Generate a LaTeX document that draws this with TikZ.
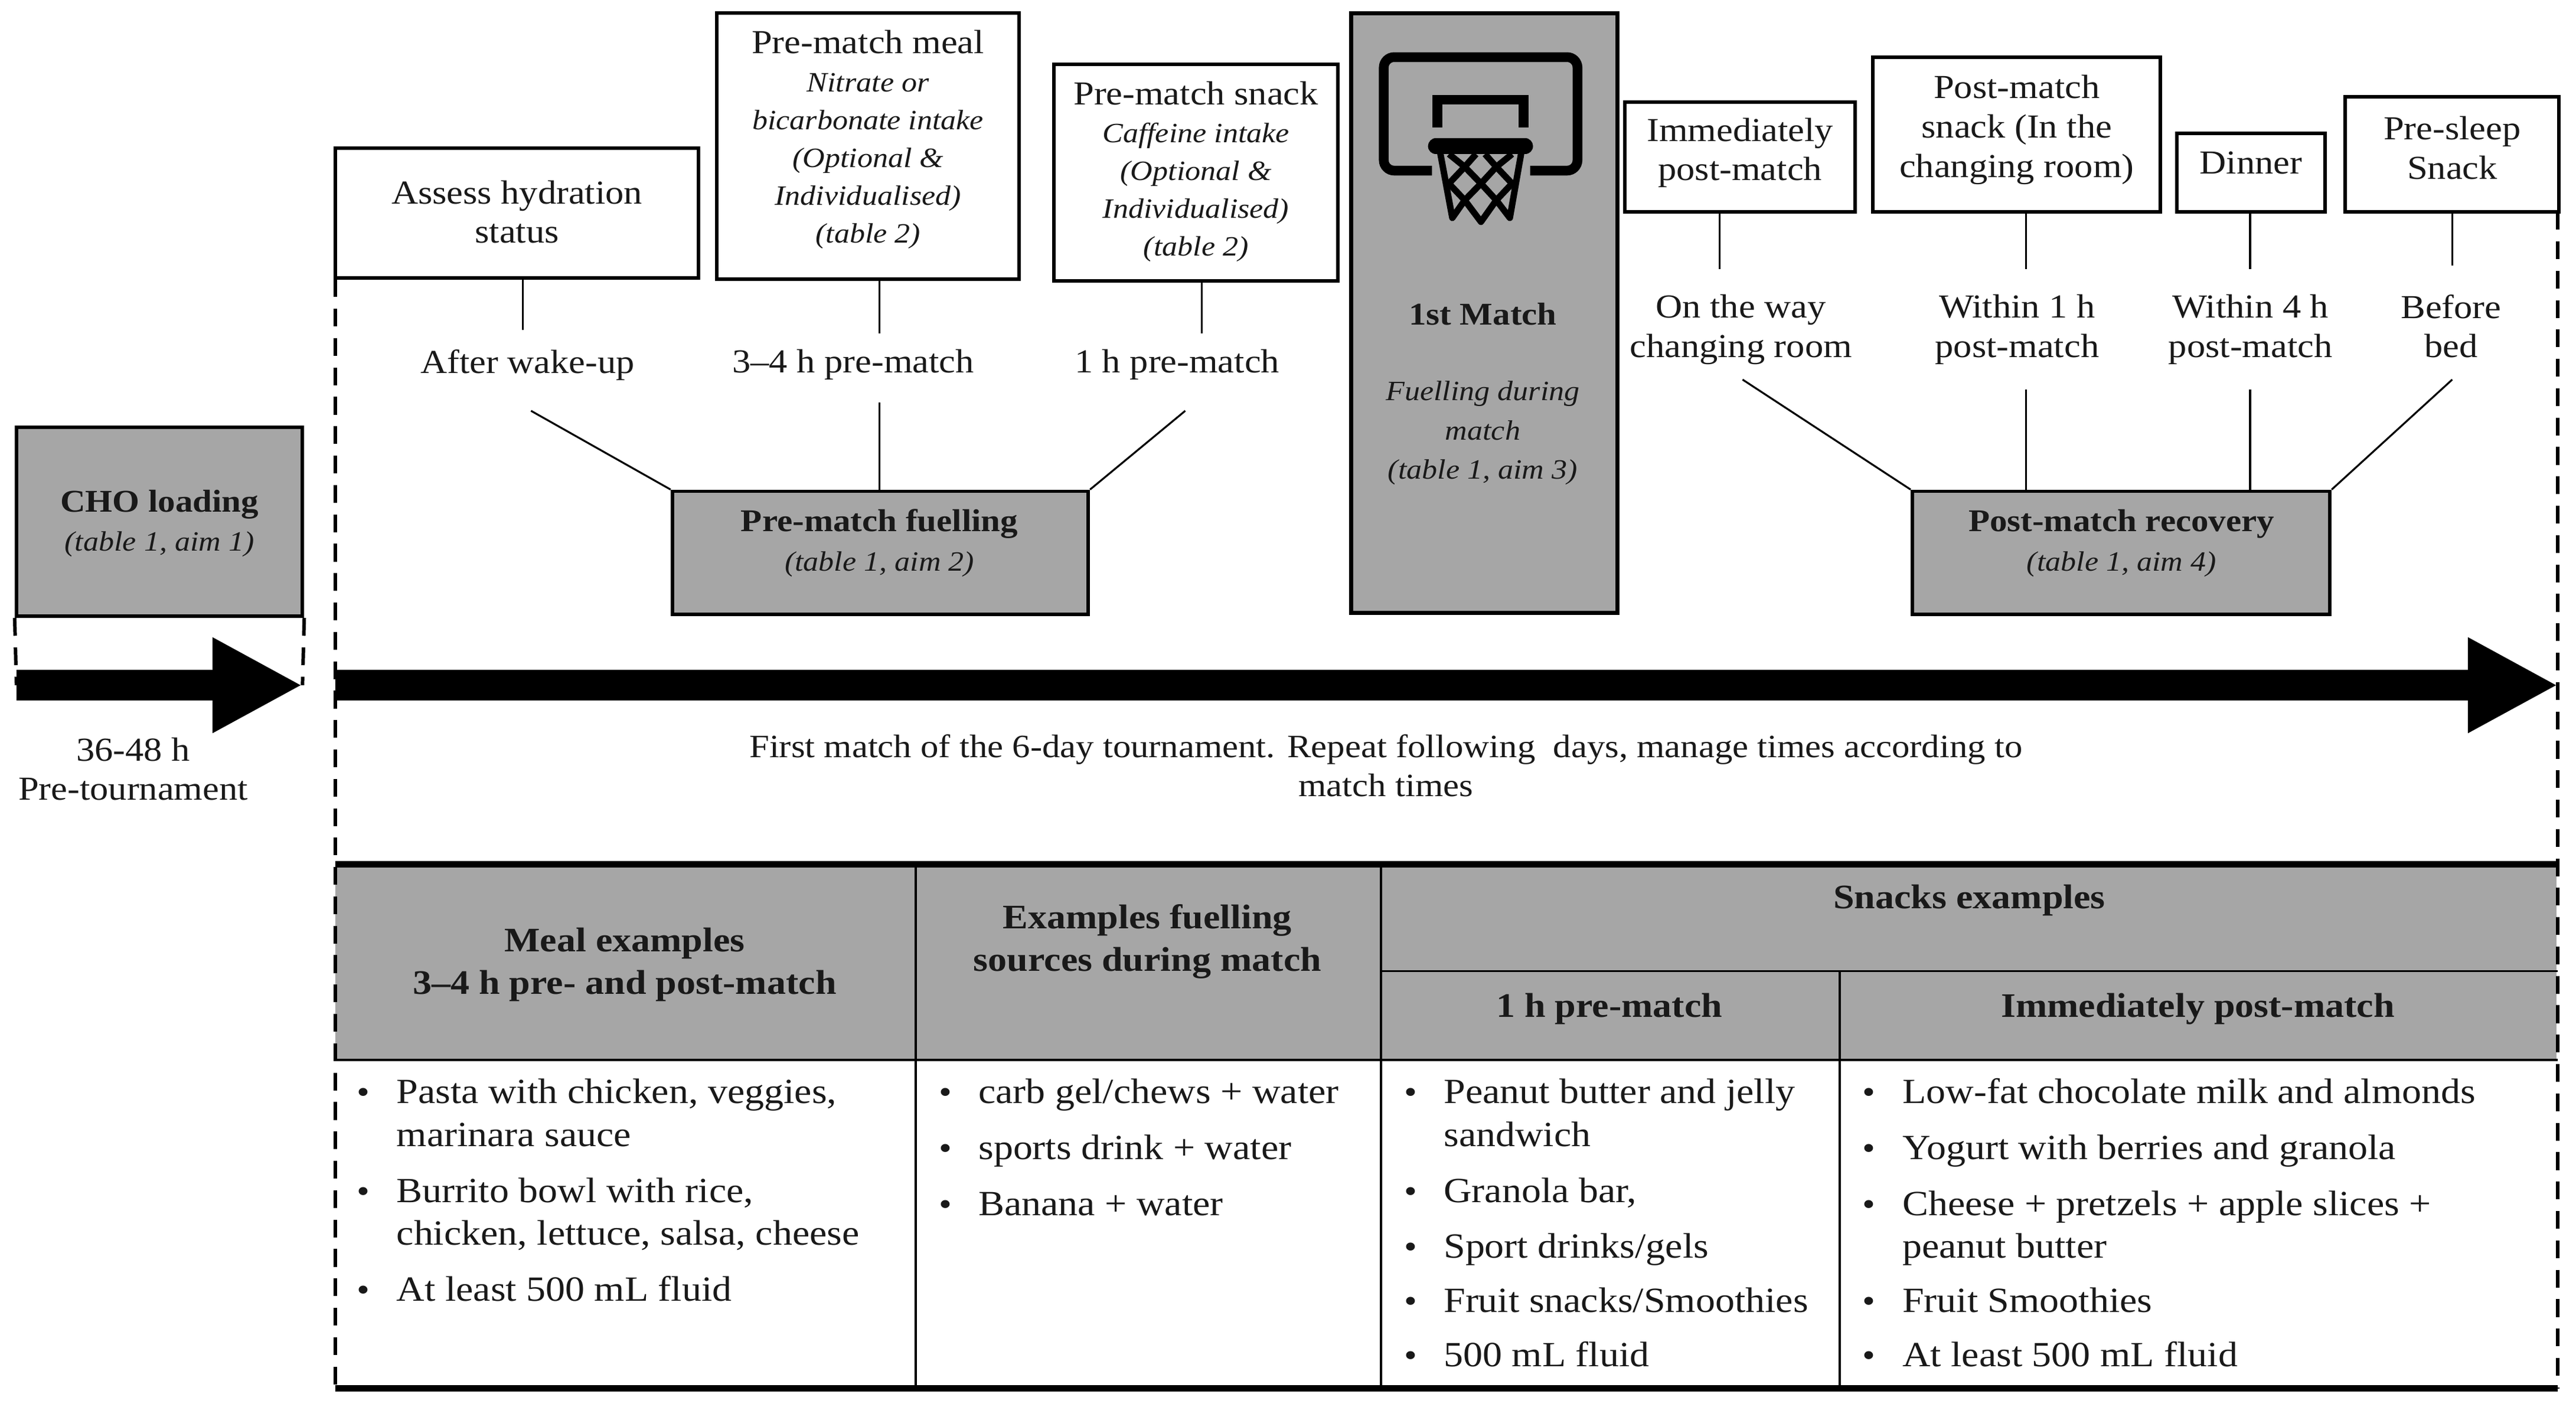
\documentclass[tikz,border=0pt]{standalone}
\usepackage{fontspec}
\setmainfont[FakeStretch=1.1]{Liberation Serif}
\usetikzlibrary{arrows.meta}
\newcommand{\unt}{0.2791mm}
\newcommand{\subtxt}[1]{{\fontsize{13.5}{18.3}\selectfont\itshape #1}}
\newcommand{\boxbold}[1]{{\fontsize{15.3}{18.8}\selectfont\bfseries #1}}
\definecolor{boxgrey}{HTML}{A6A6A6}
\tikzset{
  basetext/.style={font=\fontsize{16.2}{19}\selectfont,align=center,inner sep=0pt,text=black!90},
  tightlead/.style={basetext,font=\fontsize{16.2}{18.3}\selectfont},
  headtext/.style={basetext,font=\fontsize{16.6}{20.6}\selectfont\bfseries},
  whitebox/.style={draw,line width=1.7pt,fill=white,inner sep=0pt},
  greybox/.style={draw,line width=1.7pt,fill=boxgrey,inner sep=0pt},
  link/.style={line width=0.9pt},
  dashline/.style={line width=1.7pt,dash pattern=on 8.6pt off 5.6pt},
  timearrow/.style={line width=14.6pt,-{Triangle[length=43.5pt,width=43pt]}},
  tablerule/.style={line width=1.1pt},
  thickrule/.style={line width=3.2pt},
  itemtext/.style={basetext,font=\fontsize{17.1}{19}\selectfont,anchor=west,text height=11pt,text depth=3.5pt,yshift=-1.5pt},
  itemdot/.style={basetext,text height=11pt,text depth=3.5pt,yshift=-1.5pt}
}
\begin{document}
\begin{tikzpicture}[x=\unt,y=-\unt]
  \useasboundingbox (0,0) rectangle (1567,854.4);
  % dashed frame
  \coordinate (FL) at (204,170);
  \coordinate (FR) at (1556,129);
  \coordinate (BL) at (204,845);
  \coordinate (BR) at (1556,845);

  % table
  \fill[boxgrey] (204,528) rectangle (1555,645);
  \coordinate (T0) at (204,526);
  \coordinate (T1) at (557,526);
  \coordinate (T2) at (840,526);
  \coordinate (T3) at (1119,526);
  \coordinate (T4) at (1556,526);
  \draw[thickrule] (T0) -- (T4);
  \draw[thickrule] (BL) -- (BR);
  \draw[tablerule] (T0 |- 0,645) -- (T4 |- 0,645);
  \draw[tablerule] (T2 |- 0,591) -- (T4 |- 0,591);
  \draw[tablerule] (T1) -- (T1 |- BL);
  \draw[tablerule] (T2) -- (T2 |- BL);
  \draw[tablerule] (T3 |- 0,591) -- (T3 |- BL);
  \draw[dashline] (FL) -- (BL);
  \draw[dashline] (FR) -- (BR);

  % upper boxes
  \node[whitebox,minimum width=221*\unt,minimum height=79*\unt] (hydration) at (314.5,129.5) {};
  \node[whitebox,minimum width=184*\unt,minimum height=162*\unt] (meal) at (528,89) {};
  \node[whitebox,minimum width=173*\unt,minimum height=132*\unt] (snack) at (727.5,105) {};
  \node[whitebox,minimum width=140*\unt,minimum height=67*\unt] (immediate) at (1058.5,95.5) {};
  \node[whitebox,minimum width=175*\unt,minimum height=94*\unt] (changing) at (1226.8,82) {};
  \node[whitebox,minimum width=90*\unt,minimum height=48*\unt] (dinner) at (1369.3,105) {};
  \node[whitebox,minimum width=130*\unt,minimum height=70*\unt] (sleep) at (1491.7,94) {};
  \node[basetext] (hydrationtxt) at (314.5,129) {Assess hydration\\status};
  \node[tightlead] (mealtxt) at (528,85) {Pre-match meal\\\subtxt{Nitrate or}\\\subtxt{bicarbonate intake}\\\subtxt{(Optional \&}\\\subtxt{Individualised)}\\\subtxt{(table 2)}};
  \node[tightlead] (snacktxt) at (727.5,104.5) {Pre-match snack\\\subtxt{Caffeine intake}\\\subtxt{(Optional \&}\\\subtxt{Individualised)}\\\subtxt{(table 2)}};
  \node[basetext] (immediatetxt) at (1058.5,93) {Immediately\\post-match};
  \node[basetext] (changingtxt) at (1226.8,79) {Post-match\\snack (In the\\changing room)};
  \node[basetext] (dinnertxt) at (1369.3,99) {Dinner};
  \node[basetext] (sleeptxt) at (1491.7,90) {Pre-sleep\\Snack};

  % match box and hoop
  \node[greybox,line width=2pt,minimum width=162*\unt,minimum height=365*\unt] (match) at (903,190.5) {};
  \node[basetext] (matchname) at (902,191) {\boxbold{1st Match}};
  \node[basetext] (matchfuel) at (902,263.5) {\subtxt{Fuelling during}\\\subtxt{match}\\\subtxt{(table 1, aim 3)}};
  \begin{scope}[shift={(808.7,0)},x=\unt/7.29,y=-\unt/8.37]
    \draw[line width=4.7pt,rounded corners=5pt] (455,869) -- (241,869) -- (241,291) -- (1100,291) -- (1100,869) -- (890,869);
    \draw[line width=4.8pt] (478,650) -- (478,508) -- (862,508) -- (862,650);
    \draw[line width=3.1pt,line cap=round,line join=round] (490,770) -- (545,1110) -- (600,1020) -- (672,1130) -- (740,1020) -- (800,1110) -- (852,770);
    \draw[line width=3.1pt] (530,785) -- (600,850) -- (672,935) -- (740,1020);
    \draw[line width=3.1pt] (810,785) -- (740,850) -- (672,935) -- (600,1020);
    \draw[line width=3.1pt] (650,785) -- (600,850) -- (530,935) -- (600,1020);
    \draw[line width=3.1pt] (690,785) -- (740,850) -- (810,935) -- (740,1020);
    \draw[line width=7.6pt,line cap=round] (472,745) -- (868,745);
  \end{scope}

  % time labels
  \node[basetext,minimum height=42*\unt] (tWake) at (321,222) {After wake-up};
  \node[basetext,minimum height=38*\unt] (tMeal) at (519,222) {3--4 h pre-match};
  \node[basetext,minimum height=38*\unt] (tSnack) at (716,222) {1 h pre-match};
  \node[basetext,minimum height=73*\unt] (tWay) at (1059,200.5) {On the way\\changing room};
  \node[basetext,minimum height=73*\unt] (tOne) at (1227,200.5) {Within 1 h\\post-match};
  \node[basetext,minimum height=73*\unt] (tFour) at (1369,200.5) {Within 4 h\\post-match};
  \node[basetext,minimum height=73*\unt] (tBed) at (1491,198.5) {Before\\bed};

  % grey boxes
  \node[greybox,minimum width=253*\unt,minimum height=75*\unt] (fuelling) at (535.5,336.5) {};
  \node[greybox,minimum width=254*\unt,minimum height=75*\unt] (recovery) at (1290.3,336.5) {};
  \node[greybox,minimum width=174*\unt,minimum height=115*\unt] (loading) at (97,317.5) {};
  \node[basetext] (fuellingtxt) at (535,330.5) {\boxbold{Pre-match fuelling}\\\subtxt{(table 1, aim 2)}};
  \node[basetext] (recoverytxt) at (1290.5,330.5) {\boxbold{Post-match recovery}\\\subtxt{(table 1, aim 4)}};
  \node[basetext] (loadingtxt) at (97,318.5) {\boxbold{CHO loading}\\\subtxt{(table 1, aim 1)}};

  % connectors
  \coordinate (w1) at (318,250);
  \coordinate (w2) at (323,250);
  \coordinate (m1) at (535,245);
  \coordinate (s1) at (731,250);
  \coordinate (s2) at (721,250);
  \coordinate (a1) at (1046,231);
  \coordinate (a2) at (1060,231);
  \coordinate (o1) at (1232.5,237);
  \coordinate (f1) at (1368.7,237);
  \coordinate (b1) at (1491.7,231);
  \draw[link] (hydration.south -| w1) -- (tWake.north -| w1);
  \draw[link] (meal.south -| m1) -- (tMeal.north -| m1);
  \draw[link] (snack.south -| s1) -- (tSnack.north -| s1);
  \draw[link] (immediate.south -| a1) -- (tWay.north -| a1);
  \draw[link] (changing.south -| o1) -- (tOne.north -| o1);
  \draw[link] (dinner.south -| f1) -- (tFour.north -| f1);
  \draw[link] (sleep.south -| b1) -- (tBed.north -| b1);
  \draw[link] (w2) -- (fuelling.north west);
  \draw[link] (m1) -- (fuelling.north -| m1);
  \draw[link] (s2) -- (fuelling.north east);
  \draw[link] (a2) -- (recovery.north west);
  \draw[link] (o1) -- (recovery.north -| o1);
  \draw[link] (f1) -- (recovery.north -| f1);
  \draw[link] (b1) -- (recovery.north east);

  % time arrows
  \coordinate (A0) at (10,417);
  \coordinate (A1) at (184,417);
  \coordinate (B0) at (204,417);
  \coordinate (B1) at (1556,417);
  \draw[dashline] (loading.south west) -- (A0);
  \draw[dashline] (loading.south east) -- (A1);
  \draw[timearrow] (A0) -- (A1);
  \draw[timearrow] (B0) -- (B1);
  \node[basetext] (pretour) at (81,468) {36-48 h\\Pre-tournament};
  \node[basetext,font=\fontsize{15.75}{19}\selectfont] (firstmatch) at (843,466) {First match of the 6-day tournament. Repeat following\ \ days, manage times according to\\match times};

  % table headers
  \node[headtext] (hMeal) at (380,587) {Meal examples\\3--4 h pre- and post-match};
  \node[headtext] (hSource) at (698,573) {Examples fuelling\\sources during match};
  \node[headtext] (hSnack) at (1198,548) {Snacks examples};
  \node[headtext] (hPre) at (979,614) {1 h pre-match};
  \node[headtext] (hPost) at (1337,614) {Immediately post-match};

  % table lists
  \foreach \y/\t [count=\i] in {665/{Pasta with chicken, veggies,},691/{marinara sauce},725/{Burrito bowl with rice,},751/{chicken, lettuce, salsa, cheese},785/{At least 500 mL fluid}}
    \node[itemtext] (meal\i) at (241,\y) {\t};
  \foreach \y [count=\i] in {665,725,785}
    \node[itemdot] (mealdot\i) at (221,\y) {•};
  \foreach \y/\t [count=\i] in {665/{carb gel/chews + water},699/{sports drink + water},733/{Banana + water}}
    \node[itemtext] (source\i) at (595,\y) {\t};
  \foreach \y [count=\i] in {665,699,733}
    \node[itemdot] (sourcedot\i) at (575,\y) {•};
  \foreach \y/\t [count=\i] in {665/{Peanut butter and jelly},691/{sandwich},725/{Granola bar,},759/{Sport drinks/gels},792/{Fruit snacks/Smoothies},825/{500 mL fluid}}
    \node[itemtext] (pre\i) at (878,\y) {\t};
  \foreach \y [count=\i] in {665,725,759,792,825}
    \node[itemdot] (predot\i) at (858,\y) {•};
  \foreach \y/\t [count=\i] in {665/{Low-fat chocolate milk and almonds},699/{Yogurt with berries and granola},733/{Cheese + pretzels + apple slices +},759/{peanut butter},792/{Fruit Smoothies},825/{At least 500 mL fluid}}
    \node[itemtext] (post\i) at (1157,\y) {\t};
  \foreach \y [count=\i] in {665,699,733,792,825}
    \node[itemdot] (postdot\i) at (1137,\y) {•};
\end{tikzpicture}
\end{document}
